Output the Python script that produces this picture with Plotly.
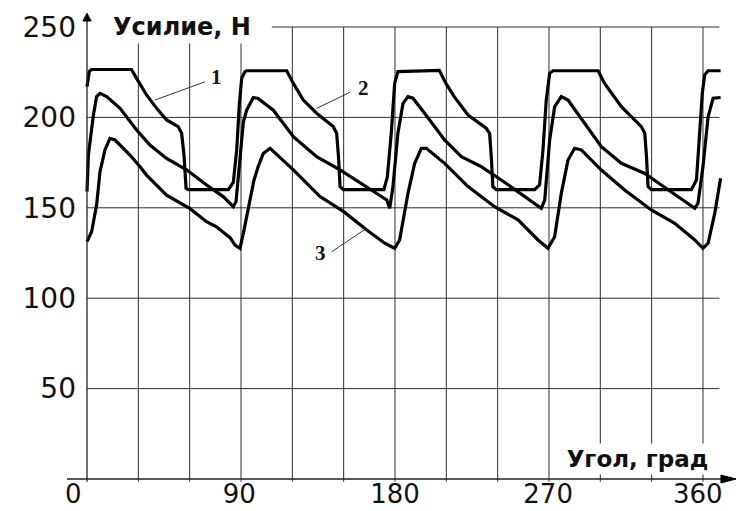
import plotly.graph_objects as go

# ---------------- data ----------------
ANGLE_1 = [0, 1.3, 2.7, 26, 29, 34.8, 40.7, 46.5, 53.3, 55.3, 56.7, 57.9, 59.2, 82.6, 85.5, 87.5, 89, 90.4, 92.3, 93.3,
           116.7, 120.6, 126.4, 134.2, 143.9, 145.9, 147, 147.9, 149.8, 173.5, 175.5, 177.8, 179.8, 181.7,
           205.9, 209.8, 214.6, 222.7, 233.3, 235.3, 236.3, 237.2, 239.2, 261.6, 264.5, 266.5, 268.4, 270.4, 272.3,
           298.7, 302.5, 312.3, 324, 326, 327, 327.9, 329.8, 353.2, 356.2, 358.1, 359.6, 361, 363, 370.3]
FORCE_1 = [217, 225.3, 226.5, 226.5, 221.6, 212.4, 205, 198.6, 194.9, 191.2, 179, 160.8, 160, 160, 164, 182, 206.8, 221.6, 225.3, 225.8,
           225.8, 218.8, 209.6, 202.3, 194.9, 191.2, 178, 161.7, 160, 160, 167, 191, 218.8, 225.3,
           226, 218.8, 211.5, 201.3, 194, 191.2, 178, 161.7, 160, 160, 162.6, 182, 209.6, 224.4, 225.8,
           225.8, 218.8, 205.9, 194.9, 191.2, 178, 161.7, 160, 160, 165.4, 191.2, 213.3, 223.5, 225.8, 225.8]

ANGLE_2 = [0, 0.8, 3.7, 5.6, 7.6, 11.5, 19.3, 29, 36.8, 46.5, 58.2, 69.9, 79.6, 85.5, 87.1, 89, 90.4, 91.4, 93.3, 97.2,
           100, 108.9, 120.6, 134.2, 147.9, 163.5, 175.2, 176.9, 178.8, 181.7, 184.7, 187.6, 190.5, 197.3,
           209, 218.8, 230.4, 242.1, 255.8, 265.5, 267.5, 270.4, 273.3, 277.2, 281.1, 290.8,
           300.6, 312.3, 326, 339.6, 355.2, 357.1, 360, 363, 365.9, 370.3]
FORCE_2 = [159, 179, 201, 211.5, 213.3, 211.5, 205, 193, 184.7, 177.3, 171, 162.6, 156.2, 150.6, 153.4, 173.7, 185.7, 197.6, 204, 211,
           210.5, 204, 189.3, 178.3, 171, 161.7, 154.3, 149.7, 161.7, 191.2, 207.8, 211.5, 210.6, 202.3,
           187.5, 178.3, 172.8, 165.4, 156.2, 149.7, 154.3, 187.5, 205.9, 211.5, 209.6, 196.7,
           183.8, 174.6, 169, 160, 149.7, 152.5, 172.8, 200.4, 210.6, 211]

ANGLE_3 = [0, 2.7, 5.6, 7.6, 10.5, 13.4, 16.4, 25.1, 31, 34.8, 46.5, 60.2, 69.9, 75.7, 81.6, 83.6, 86.5, 89.4,
           91.4, 93.3, 95.3, 97.5, 100, 103, 107, 120.6, 136.2, 149.8, 163.5, 174, 179.8,
           182.7, 187.6, 191.5, 195.4, 198.3, 209, 222.7, 238.2, 251.9, 263.6, 269.4,
           273.3, 277.2, 281.1, 285, 288.9, 300.6, 314.2, 329.8, 343.5, 355.2, 360, 363, 366.9, 370.3]
FORCE_3 = [131.3, 136.8, 151.5, 170, 182, 188.4, 187.5, 179.2, 172.7, 168.1, 157, 149.5, 142.3, 139.5, 135, 133.5, 129.4, 127.6,
           136, 145, 154, 165, 172.7, 180, 182.9, 171, 156.2, 148, 137.7, 130.4, 127.6,
           132.2, 158, 174.6, 182.9, 182.9, 174.6, 161.7, 150.6, 143.3, 132.2, 127.6,
           134, 158, 176.4, 182.9, 182, 170.9, 159.8, 148.8, 141.4, 132.2, 127.6, 130.4, 147, 166.3]

X_TICK_LABELS = ["0", "90", "180", "270", "360"]
Y_TICK_VALUES = [50, 100, 150, 200, 250]
Y_TICK_LABELS = ["50", "100", "150", "200", "250"]
CURVE_LABELS = ["1", "2", "3"]
Y_TITLE = "Усилие, Н"
X_TITLE = "Угол, град"

# ---------------- layout helpers (positions / styles) ----------------
X_TICK_POS = [-8, 89, 180, 269.5, 357]
X_GRID = [30, 60, 90, 120, 150, 180, 210, 240, 270, 300, 330, 360]
Y_GRID = [50, 100, 150, 200, 250]
X_RANGE = [-11.69, 379.3]
Y_RANGE = [-4.42, 259.4]
GRID_END = 369.6
LABEL_POS = [(75.8, 222.6), (161.5, 216.1), (136.2, 124.8)]
LEADERS = [((39.7, 209.6), (69.0, 219.7)), ((134.2, 205.0), (153.7, 213.9)), ((143.0, 125.7), (163.5, 138.7))]

fig = go.Figure()
for xs, ys in [(ANGLE_1, FORCE_1), (ANGLE_2, FORCE_2), (ANGLE_3, FORCE_3)]:
    fig.add_trace(go.Scatter(x=xs, y=ys, mode="lines", line=dict(color="black", width=3.2),
                             hoverinfo="skip", showlegend=False))

shapes = []
grid_line = dict(color="#2e2e2e", width=1)
for gx in X_GRID:
    shapes.append(dict(type="line", xref="x", yref="y", x0=gx, x1=gx, y0=-1.5, y1=250, line=grid_line, layer="below"))
for gy in Y_GRID:
    x0 = 108 if gy == 250 else 0
    shapes.append(dict(type="line", xref="x", yref="y", x0=x0, x1=GRID_END, y0=gy, y1=gy, line=grid_line, layer="below"))
# axes
shapes.append(dict(type="line", xref="x", yref="y", x0=X_RANGE[0], x1=372, y0=0, y1=0, line=dict(color="#222", width=1.3)))
shapes.append(dict(type="line", xref="x", yref="y", x0=0, x1=0, y0=-1.5, y1=254, line=dict(color="#222", width=1.3)))
shapes.append(dict(type="path", xref="x", yref="y", path="M 370.5,-2.2 L 379.3,0 L 370.5,2.2 Z",
                   fillcolor="black", line=dict(color="black", width=1)))
shapes.append(dict(type="path", xref="x", yref="y", path="M -2.4,253.3 L 0,257.6 L 2.4,253.3 Z",
                   fillcolor="black", line=dict(color="black", width=1)))
for (a, b) in LEADERS:
    shapes.append(dict(type="line", xref="x", yref="y", x0=a[0], y0=a[1], x1=b[0], y1=b[1],
                       line=dict(color="#333", width=1)))

annotations = []
for txt, (lx, ly) in zip(CURVE_LABELS, LABEL_POS):
    annotations.append(dict(x=lx, y=ly, xref="x", yref="y", text=txt, showarrow=False,
                            font=dict(family="Liberation Serif", size=21, color="#111", weight="bold")))
annotations.append(dict(x=55.5, y=250, xref="x", yref="y", text=Y_TITLE, showarrow=False,
                        width=170, bgcolor="white", borderpad=2,
                        font=dict(family="DejaVu Sans", size=24, color="#111", weight="bold")))
annotations.append(dict(x=322, y=10.8, xref="x", yref="y", text=X_TITLE, showarrow=False,
                        width=165, bgcolor="white", borderpad=2,
                        font=dict(family="DejaVu Sans", size=23, color="#111", weight="bold")))

fig.update_layout(
    width=736, height=511,
    margin=dict(l=67, r=0, t=10, b=24, autoexpand=False),
    paper_bgcolor="white", plot_bgcolor="white",
    shapes=shapes, annotations=annotations,
    xaxis=dict(range=X_RANGE, tickvals=X_TICK_POS, ticktext=X_TICK_LABELS, showgrid=False, zeroline=False,
               showline=False, ticks="", ticklabelstandoff=-11, automargin=False,
               tickfont=dict(family="DejaVu Sans", size=26, color="#111")),
    yaxis=dict(range=Y_RANGE, tickvals=Y_TICK_VALUES, ticktext=Y_TICK_LABELS, showgrid=False, zeroline=False,
               showline=False, ticks="", ticklabelstandoff=-10, automargin=False,
               tickfont=dict(family="DejaVu Sans", size=28, color="#111")),
)

fig.write_html("out.html", config={"displayModeBar": False},
               post_script="document.body.style.margin='0';document.body.style.overflow='hidden';")
